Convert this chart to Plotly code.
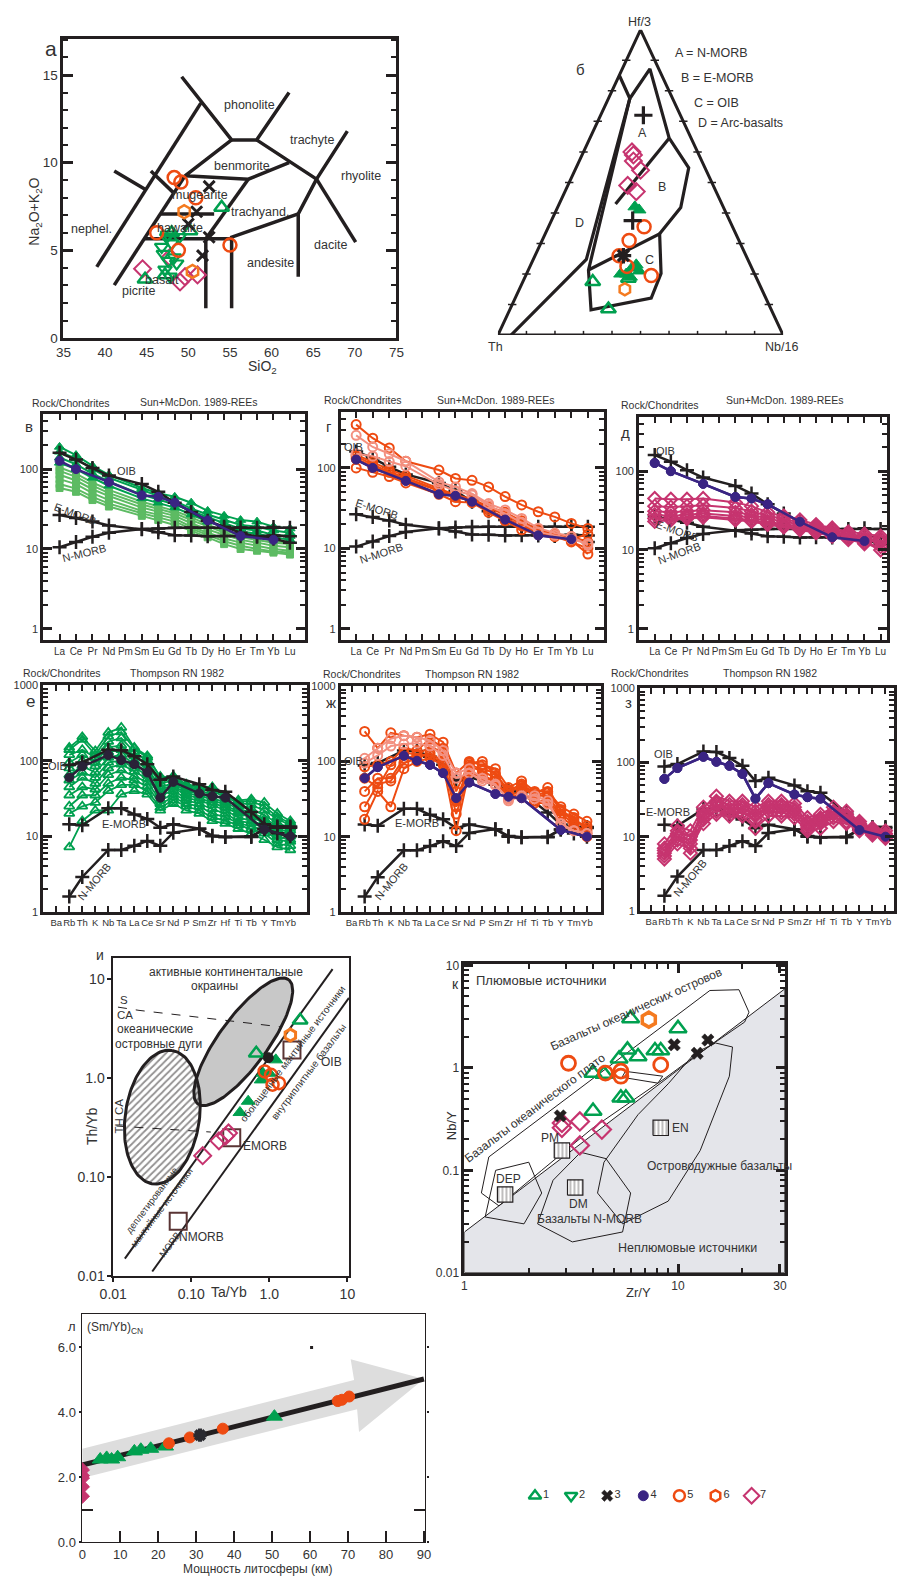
import numpy as np
import plotly.graph_objects as go

W, H = 904, 1587
FONT = "Liberation Sans Narrow, Arial Narrow, Liberation Sans, Arial, sans-serif"
INK = "#231f20"
TXT = "#333333"
GREEN = "#00a04f"
GREEN_L = "#5dbb63"
PURPLE = "#3a2483"
RED = "#ee4b12"
ORANGE = "#f47a1f"
SALMON = "#f39080"
MAGENTA = "#c6346f"
BOXC = "#5a3434"

# ======================= DATA =======================
# (а) TAS diagram: field boundaries (SiO2, Na2O+K2O)
tas_lines = [
    [(39.0, 4.06), (51.5, 13.4)],
    [(49.2, 14.9), (55.2, 11.3), (58.2, 11.3), (62.1, 14.0)],
    [(58.2, 11.3), (65.4, 9.06), (69.1, 11.8)],
    [(65.4, 9.06), (70.1, 5.47)],
    [(65.4, 9.06), (63.2, 7.08), (63.2, 3.5)],
    [(63.2, 7.08), (55.2, 5.75), (55.2, 1.7)],
    [(44.7, 5.66), (55.2, 5.66)],
    [(52.1, 5.66), (52.1, 1.7)],
    [(46.6, 7.08), (53.1, 7.08)],
    [(55.2, 11.3), (49.6, 9.25), (57.2, 9.06), (62.1, 10.0)],
    [(52.1, 5.66), (57.2, 9.06)],
    [(41.1, 3.02), (49.6, 9.25)],
    [(41.1, 9.53), (44.9, 8.45)],
    [(45.5, 9.53), (48.3, 8.25)],
]
tas_names = ["phonolite", "trachyte", "benmorite", "rhyolite", "mugearite", "trachyand.",
             "nephel.", "hawaiite", "dacite", "andesite", "basalt", "picrite"]
tas_name_x = [57.3, 64.9, 56.4, 70.7, 51.4, 58.6, 38.4, 49.0, 67.1, 59.9, 46.8, 44.0]
tas_name_y = [13.3, 11.3, 9.8, 9.25, 8.17, 7.2, 6.2, 6.26, 5.3, 4.3, 3.3, 2.68]
tas_s1_x = [54.0, 50.2, 44.8, 48.0, 47.2]
tas_s1_y = [7.45, 6.1, 3.35, 6.0, 3.6]
tas_s2_x = [47.4, 48.0, 47.0, 47.6, 48.6, 47.2, 47.8, 46.8, 48.9, 47.5, 48.3]
tas_s2_y = [5.75, 5.4, 4.8, 4.4, 4.25, 3.9, 3.5, 5.2, 5.75, 5.9, 4.6]
tas_s3_x = [52.5, 50.0, 51.0, 52.5, 51.7]
tas_s3_y = [8.65, 6.5, 7.2, 5.75, 4.7]
tas_s5_x = [48.3, 49.1, 50.9, 46.2, 48.8, 55.0]
tas_s5_y = [9.15, 8.9, 8.0, 6.0, 5.0, 5.3]
tas_s6_x = [49.5, 50.5]
tas_s6_y = [7.2, 3.8]
tas_s7_x = [44.5, 49.0, 49.6, 51.1, 47.8]
tas_s7_y = [3.95, 3.2, 3.5, 3.6, 4.6]

# (б) Hf/3 - Th - Nb/16 ternary, compositions as (Hf/3, Th, Nb/16) %
tern_lines = [
    [(85.1, 14.9, 0), (77.5, 15, 7.5), (87.2, 3.1, 9.7), (64.5, 7.7, 27.8), (54.8, 5.7, 39.5),
     (41.8, 15, 43.2), (33.2, 26.7, 40.1)],
    [(77.5, 15, 7.5), (24.8, 56.6, 18.6), (0, 95.4, 4.6)],
    [(77.5, 15, 7.5), (21.3, 57.6, 21.1), (8.3, 63.2, 28.5), (12.1, 40.2, 47.7), (20.2, 32.7, 47.1),
     (33.2, 26.7, 40.1), (21.3, 57.6, 21.1)],
    [(64.5, 7.7, 27.8), (42.9, 37.3, 19.8)],
]
tern_corners = [(0, 100, 0), (0, 0, 100), (100, 0, 0), (0, 100, 0)]
tern_plus = [(72, 13, 15), (37.5, 34, 28.5)]
tern_star = [(26, 43, 31)]
tern_s7 = [(60, 23, 17), (57, 24, 19), (54, 23, 23), (49, 30, 21), (47, 28, 25), (59, 23, 18)]
tern_s1_fill = [(42, 31, 27), (41, 30, 29), (22, 42, 36), (21, 40, 39), (20, 45, 35), (20, 47, 33),
                (19, 44, 37), (23, 40, 37)]
tern_s1_open = [(17.5, 58, 24.5), (8.5, 57, 34.5), (18.5, 45, 36.5)]
tern_s5 = [(35.5, 31, 33.5), (31, 38.5, 30.5), (26, 44.5, 29.5), (22.5, 43.5, 34), (19.5, 36.5, 44)]
tern_s6 = [(15, 48, 37)]

# (в, г, д) REE, chondrite normalised
REE = ["La", "Ce", "Pr", "Nd", "Pm", "Sm", "Eu", "Gd", "Tb", "Dy", "Ho", "Er", "Tm", "Yb", "Lu"]
ree_oib = [160, 132, 103, 83, None, 65, 52, 38, 29, 22.5, 19, 16, 14.2, 13.4, 12]
ree_emorb = [26.6, 24.5, 22.1, 19.7, None, 17.6, 16.2, 14.9, 14.7, 14.4, 14.5, 14.4, 14.4, 14.7, 14.4]
ree_nmorb = [10.5, 12.2, 14.2, 16.0, None, 17.8, 18.1, 18.5, 18.6, 18.5, 18.5, 18.6, 18.5, 18.9, 18.5]
ree_s4 = [127, 100, None, 69, None, 47, 45, 38, None, 22.8, None, 14.5, None, 13, None]
ree_green_dark = [
    [190, 150, 110, 85, None, 58, 50, 45, 38, 30, 26, 23, 22, 19, 18],
    [165, 135, 100, 78, None, 55, 46, 40, 32, 27, 23, 20, 19, 17, 16],
    [140, 115, 88, 70, None, 48, 42, 36, 30, 25, 21, 18, 17, 15, 14.5],
    [120, 100, 78, 62, None, 43, 38, 33, 27, 22, 19, 16.5, 15.5, 14, 13],
]
ree_green_light = [
    [105, 88, 68, 55, None, 39, 34, 30, 25, 20, 17, 15, 14, 12.5, 12],
    [95, 80, 62, 50, None, 36, 32, 28, 23, 19, 16, 14, 13, 12, 11.5],
    [85, 72, 56, 46, None, 33, 29, 26, 21, 17.5, 15, 13, 12, 11, 10.5],
    [75, 65, 50, 41, None, 30, 27, 24, 19, 16, 13.5, 12, 11, 10, 9.5],
    [65, 57, 45, 37, None, 28, 25, 22, 18, 15, 12.5, 11, 10, 9.3, 9],
    [58, 52, 41, 34, None, 26, 23, 20, 17, 14, 11.5, 10, 9.5, 9, 8.5],
]
ree_red = [
    [345, 234, 177, 121, None, 94, 74, 70, 58, 44, 34.6, 28.5, 24.6, 20.4, 17.7],
    [146, 118, 95, 80, None, 55, 46, 41, 33, 28, 22, 17, 15, 14, 12],
    [140, 110, 90, 75, None, 53, 45, 40, 32, 26, 20, 16, 15, 13, 15],
    [130, 105, 88, 72, None, 52, 43, 40, 30, 24, 19, 16, 14.5, 12.5, 8.5],
    [100, 88, 78, 65, None, 47, 38, 37, 28, 22, 17, 15, 14, 12, 10],
]
ree_salmon = [
    [254, 182, 150, 121, None, 67, 58, 48, 36, 30, 23.5, 17.8, 15.5, 14, 11],
    [150, 140, 120, 105, None, 62, 52, 46, 34, 27, 21, 16, 14.5, 13, 11.5],
]
ree_magenta = [
    [45, 44, 44, 45, None, 40, 36, 30, 27, 24, 21, 19, 17, 16, 15],
    [36, 35, 36, 37, None, 34, 31, 27, 25, 22, 20, 18, 16, 15, 14],
    [31, 30, 31, 32, None, 30, 28, 25, 23, 21, 19, 17, 15.5, 14, 13],
    [28, 27, 28, 29, None, 27, 26, 23, 21, 20, 18, 16, 15, 13.5, 12.5],
    [25, 25, 26, 27, None, 25, 24, 22, 20, 19, 17, 15, 14, 12.5, 10],
    [23, 24, 25, 26, None, 24, 23, 21, 19.5, 18, 16.5, 15, 13.5, 12, 11],
]

# (е, ж, з) Thompson 1982 spidergrams
TH = ["Ba", "Rb", "Th", "K", "Nb", "Ta", "La", "Ce", "Sr", "Nd", "P", "Sm", "Zr", "Hf", "Ti",
      "Tb", "Y", "Tm", "Yb"]
th_oib = [None, 88, 95, None, 140, 138, 115, 90, 56, 62, None, 49, 41, 39, None, 21, 14.5, 13, 13]
th_emorb = [None, 14.5, 14, None, 23.5, 23.5, 19.5, 17, 13, 14.5, None, 12.6, 10, 9.8, None, 10, 12.5, 13.5, 13.5]
th_nmorb = [None, 1.6, 2.9, None, 6.6, 6.6, 7.5, 8.7, 7.5, 11.2, None, 12.6, 10.2, 9.8, None, 9.8, 12.5, 11, 10]
th_s4 = [None, 60, 84, None, 119, 102, 90, 70, 32.5, 52.5, None, 37, 34, 32.5, None, None, 12.3, None, 10]
th_green = [
    [None, 150, 207, 135, 236, 275, 150, 116, 60, 63, 49, 45, 45, 36, 30, 31, 28, 20, 16],
    [None, 140, 190, 120, 210, 240, 145, 110, 62, 60, 47, 44, 42, 35, 29, 29, 25, 18, 15],
    [None, 120, 140, 110, 180, 200, 130, 100, 55, 58, 45, 42, 40, 33, 28, 26, 22, 17, 14],
    [None, 95, 120, 95, 150, 160, 115, 90, 50, 55, 42, 40, 36, 30, 25, 23, 19, 15, 13],
    [None, 80, 100, 85, 130, 140, 100, 80, 45, 50, 40, 37, 32, 28, 23, 21, 17, 14, 12],
    [None, 65, 85, 70, 110, 120, 90, 72, 42, 47, 37, 35, 30, 26, 21, 19, 16, 13, 11],
    [None, 55, 70, 60, 95, 100, 80, 65, 38, 44, 35, 32, 28, 24, 20, 18, 15, 12, 10.5],
    [None, 45, 60, 50, 80, 90, 72, 58, 35, 40, 32, 30, 26, 22, 18, 16, 14, 11, 10],
    [None, 35, 45, 42, 65, 75, 62, 52, 30, 36, 30, 27, 23, 20, 16, 15, 13, 10, 9],
    [None, 25, 35, 35, 50, 60, 55, 46, 27, 33, 27, 25, 20, 18, 15, 13.5, 12, 9, 8.5],
    [None, 20, 25, 28, 40, 48, 48, 40, 24, 30, 25, 22, 18, 16, 14, 12.5, 11, 8, 7.5],
    [None, 7.2, 16, 22, 22, 36, 40, 36, 22, 27, 22, 20, 16, 14.7, 12.6, 10.8, 9, 7.2, 6.6],
]
th_red = [
    [None, 250, 150, 240, 220, 210, 230, 180, 70, 100, 90, 80, 45, 55, 40, 40, 25, 20, 16],
    [None, 17, 40, 25, 80, 100, 110, 90, 12, 75, 60, 55, 35, 40, 30, 30, 20, 18, 12],
    [None, 40, 60, 60, 110, 120, 160, 130, 30, 90, 80, 70, 40, 50, 38, 45, 22, 16, 14],
    [None, 25, 50, 55, 95, 110, 130, 100, 25, 85, 75, 60, 40, 45, 35, 35, 20, 15, 11],
    [None, 85, 90, 100, 150, 140, 200, 150, 40, 95, 100, 65, 42, 48, 36, 38, 23, 17, 13],
    [None, 60, 45, 90, 130, 125, 120, 95, 20, 70, 65, 55, 32, 38, 28, 28, 18, 14, 10],
]
th_salmon = [
    [None, 110, 150, 200, 220, 210, 190, 140, 70, 80, 60, 50, 30, 35, 35, 30, 14, 12, 11],
    [None, 95, 120, 160, 170, 175, 160, 120, 60, 70, 55, 48, 32, 33, 32, 27, 15, 12, 11],
]
th_magenta = [
    [None, 8, 14, 12, 25, 35, 30, 30, 25, 30, 30, 28, 18, 20, 25, 22, 16, 13, 12],
    [None, 7, 12, 10, 22, 30, 27, 27, 22, 27, 27, 25, 16, 18, 22, 20, 15, 12, 11],
    [None, 6, 10, 9, 20, 26, 24, 24, 20, 25, 24, 22, 15, 16, 20, 18, 14, 12, 10.5],
    [None, 5.5, 9, 8, 17, 22, 21, 21, 17, 22, 21, 20, 13, 15, 18, 16, 13, 11, 10],
    [None, 5, 8, 7, 15, 20, 19, 19, 13, 19, 19, 18, 12, 13, 16, 15, 12, 10.5, 9.5],
    [None, 6.5, 11, 6, 19, 28, 22, 25, 19, 24, 26, 23, 14, 17, 21, 19, 14, 11.5, 10],
]

# (и) Th/Yb vs Ta/Yb
i_upper = [(0.0141, 0.0151), (6.46, 12.6)]
i_lower = [(0.0316, 0.0112), (10.47, 6.46)]
i_dash_s = [(0.0115, 5.21), (0.0214, 4.83), (0.274, 3.83), (1.40, 3.29)]
i_dash_th = [(0.011, 0.329), (0.178, 0.286)]
i_s1_open_x, i_s1_open_y = [2.48, 0.68], [3.84, 1.78]
i_s1_fill_x = [1.21, 0.785, 0.536, 0.42, 0.83, 1.0]
i_s1_fill_y = [1.53, 0.96, 0.585, 0.45, 1.12, 1.12]
i_s4_x, i_s4_y = [0.97], [1.61]
i_s5_x, i_s5_y = [0.87, 1.05, 1.1, 1.33], [1.17, 1.08, 0.86, 0.89]
i_s6_x, i_s6_y = [1.86], [2.72]
i_s7_x, i_s7_y = [0.14, 0.226, 0.275, 0.30], [0.165, 0.233, 0.26, 0.28]
i_ref_names = ["OIB", "EMORB", "NMORB"]
i_ref_x = [1.95, 0.33, 0.068]
i_ref_y = [1.92, 0.25, 0.036]

# (к) Nb/Y vs Zr/Y
k_nonplume = [(1.0, 0.025), (31.6, 5.9), (31.6, 0.01), (1.0, 0.01), (1.0, 0.025)]
k_oib_field = [(1.3, 0.135), (14.1, 5.7), (19.3, 5.8), (21.5, 3.5), (20.5, 2.8), (12, 1.3), (8.6, 0.78),
               (4, 0.26), (2.3, 0.1), (1.45, 0.045), (1.2, 0.06), (1.3, 0.135)]
k_small = [(5.67, 0.925), (8.48, 0.83), (8.05, 0.71), (5.47, 0.81), (5.67, 0.925)]
k_arc = [(15, 1.75), (18, 1.6), (17.4, 0.83), (12.7, 0.156), (9, 0.05), (5.5, 0.03), (4.2, 0.06),
         (4.5, 0.12), (6.5, 0.35), (9, 0.7), (12, 1.4), (15, 1.75)]
k_nmorb = [(2.2, 0.03), (3.2, 0.02), (5.5, 0.025), (6, 0.06), (4.6, 0.13), (3.5, 0.15), (2.6, 0.08), (2.2, 0.03)]
k_dep = [(1.25, 0.035), (1.9, 0.03), (2.3, 0.06), (2.0, 0.12), (1.4, 0.1), (1.25, 0.035)]
k_s1_x = [6.0, 10.0, 5.8, 6.5, 7.8, 8.3, 5.3, 4.0, 4.5, 5.4, 5.7, 4.0]
k_s1_y = [3.03, 2.43, 1.5, 1.29, 1.48, 1.48, 1.23, 0.89, 0.87, 0.51, 0.51, 0.38]
k_s3_x, k_s3_y = [9.6, 12.3, 13.8, 2.81], [1.68, 1.39, 1.87, 0.34]
k_s5_x, k_s5_y = [3.07, 4.57, 5.4, 5.4, 8.3], [1.11, 0.89, 0.93, 0.83, 1.07]
k_s6_x, k_s6_y = [7.3], [2.96]
k_s7_x, k_s7_y = [2.86, 2.86, 3.47, 4.4, 3.47], [0.26, 0.29, 0.30, 0.25, 0.175]
k_ref_names = ["PM", "DM", "DEP", "EN"]
k_ref_x = [2.86, 3.3, 1.55, 8.3]
k_ref_y = [0.156, 0.068, 0.058, 0.26]

# (л) (Sm/Yb)CN vs lithosphere thickness
l_arrow = [(0, 2.88), (71.6, 5.0), (70.7, 5.64), (90, 5.03), (72.9, 3.40), (72.4, 4.1), (0, 1.98), (0, 2.88)]
l_trend = [(0, 2.38), (90, 5.03)]
l_s7_x, l_s7_y = [0, 0, 0, 0, 0], [2.23, 2.05, 1.98, 1.71, 1.42]
l_s1_x = [4.7, 6.4, 7.7, 9.3, 13.7, 15.4, 18.0, 21.9, 50.6]
l_s1_y = [2.55, 2.6, 2.55, 2.62, 2.8, 2.85, 2.88, 2.95, 3.87]
l_s5_x = [22.8, 28.3, 37.0, 67.3, 68.4, 70.3]
l_s5_y = [3.05, 3.23, 3.5, 4.35, 4.39, 4.49]
l_s3_x, l_s3_y = [31.0], [3.3]
l_dot_x, l_dot_y = [60.4], [6.0]

legend_labels = ["1", "2", "3", "4", "5", "6", "7"]

# ======================= HELPERS =======================
fig = go.Figure()
LAY = dict(width=W, height=H, margin=dict(l=0, r=0, t=0, b=0), paper_bgcolor="white",
           plot_bgcolor="white", showlegend=False, font=dict(family=FONT, size=11, color=TXT))
ANN = []


def ref(n):
    return ("x", "y") if n == 1 else (f"x{n}", f"y{n}")


def keys(n):
    return ("xaxis", "yaxis") if n == 1 else (f"xaxis{n}", f"yaxis{n}")


def dx(a, b):
    return [a / W, b / W]


def dy(top, bottom):
    return [1 - bottom / H, 1 - top / H]


def tf(size):
    return dict(size=size, color=TXT, family=FONT)


def set_axes(n, xd, yd, xa, ya):
    kx, ky = keys(n)
    rx, ry = ref(n)
    base = dict(showgrid=False, zeroline=False, showline=True, linecolor=INK, linewidth=3,
                mirror=True, ticks="", layer="above traces", tickfont=tf(11), tickangle=0)
    a = dict(base); a.update(xa); a.update(domain=xd, anchor=ry)
    b = dict(base); b.update(ya); b.update(domain=yd, anchor=rx)
    LAY[kx] = a
    LAY[ky] = b


def sc(n, x, y, **kw):
    rx, ry = ref(n)
    fig.add_trace(go.Scatter(x=x, y=y, xaxis=rx, yaxis=ry, hoverinfo="skip", **kw))


def mk(symbol, size, color, lw=2):
    return dict(symbol=symbol, size=size, color=color, line=dict(width=lw, color=color))


def text(s, x, y, size=11, angle=0, xa="center", ya="middle", color=TXT, axref=None):
    if axref is None:
        xr, yr, X, Y = "paper", "paper", x / W, 1 - y / H
    else:
        xr, yr = axref
        X, Y = x, y
    ANN.append(dict(text=s, x=X, y=Y, xref=xr, yref=yr, showarrow=False, textangle=angle,
                    xanchor=xa, yanchor=ya, font=dict(size=size, color=color, family=FONT)))


def flat(lines):
    xs, ys = [], []
    for ln in lines:
        for p in ln:
            xs.append(p[0]); ys.append(p[1])
        xs.append(None); ys.append(None)
    return xs, ys


def tern_xy(pts):
    xs, ys = [], []
    for p in pts:
        if p is None:
            xs.append(None); ys.append(None); continue
        h, t, n = p
        s = h + t + n
        h, n = h / s, n / s
        xs.append(n + h / 2)
        ys.append(h)
    return xs, ys


def log_minor(lo, hi):
    return [m * 10 ** e for e in range(lo, hi) for m in range(2, 10)]


# ======================= (а) TAS =======================
set_axes(1, dx(50.7, 392), dy(33, 335),
         dict(range=[35, 75], tickvals=list(range(35, 80, 5)), tickfont=tf(13.5)),
         dict(range=[0, 17.07], tickvals=[0, 5, 10, 15], ticks="inside", ticklen=10, tickwidth=3,
              tickcolor=INK, mirror="allticks", tickfont=tf(13.5),
              minor=dict(ticks="inside", ticklen=5, tickwidth=2, tickcolor=INK, dtick=1)))
lx, ly = flat(tas_lines)
sc(1, lx, ly, mode="lines", line=dict(color=INK, width=3.5))
sc(1, tas_s7_x, tas_s7_y, mode="markers", marker=mk("diamond-open", 13, MAGENTA, 2))
sc(1, tas_s2_x, tas_s2_y, mode="markers", marker=mk("triangle-down-open", 12, GREEN, 2.2))
sc(1, tas_s1_x, tas_s1_y, mode="markers", marker=mk("triangle-up-open", 13, GREEN, 2.5))
sc(1, tas_s3_x, tas_s3_y, mode="markers", marker=mk("x-thin", 11, INK, 3))
sc(1, tas_s5_x, tas_s5_y, mode="markers", marker=mk("circle-open", 13, RED, 2.5))
sc(1, tas_s6_x, tas_s6_y, mode="markers", marker=mk("hexagon-open", 13, ORANGE, 2.5))
for s, x, y in zip(tas_names, tas_name_x, tas_name_y):
    text(s, x, y, size=12.5, axref=("x", "y"))
text("а", 38, 43, size=21)
text("Na<sub>2</sub>O+K<sub>2</sub>O", 22, 207, size=14, angle=-90)
text("SiO<sub>2</sub>", 255, 364, size=14)

# ======================= (б) ternary =======================
set_axes(2, dx(496, 788.3), dy(24, 332),
         dict(range=[0, 1], visible=False), dict(range=[0, 1], visible=False))
cx, cy = tern_xy(tern_corners)
sc(2, cx, cy, mode="lines", line=dict(color=INK, width=3))
base_ticks = [(0, 100 - 10 * k, 10 * k) for k in range(1, 10)]
side_ticks = [(10 * k, 100 - 10 * k, 0) for k in range(1, 10)] + [(10 * k, 0, 100 - 10 * k) for k in range(1, 10)]
bx, by = tern_xy(base_ticks)
sc(2, bx, by, mode="markers", marker=dict(symbol="line-ns-open", size=6, color=INK, line=dict(width=1.5, color=INK)))
sx, sy = tern_xy(side_ticks)
sc(2, sx, sy, mode="markers", marker=dict(symbol="line-ew-open", size=6, color=INK, line=dict(width=1.5, color=INK)))
tl = []
for ln in tern_lines:
    tl += ln + [None]
tx, ty = tern_xy(tl)
sc(2, tx, ty, mode="lines", line=dict(color=INK, width=3.2))
for pts, m in [(tern_s7, mk("diamond-open", 13, MAGENTA, 2)),
               (tern_s1_fill, mk("triangle-up", 12, GREEN, 1)),
               (tern_s1_open, mk("triangle-up-open", 13, GREEN, 2.5)),
               (tern_s5, mk("circle-open", 13, RED, 2.5)),
               (tern_s6, mk("hexagon-open", 12, ORANGE, 2.5)),
               (tern_plus, mk("cross-thin", 13, INK, 3.2)),
               (tern_star, mk("asterisk", 13, INK, 3.2))]:
    px_, py_ = tern_xy(pts)
    sc(2, px_, py_, mode="markers", marker=m)
text("Hf/3", 641, 16, size=12.5)
text("Th", 494, 344, size=12.5)
text("Nb/16", 787, 344, size=12.5)
text("б", 581, 64, size=15)
text("A = N-MORB", 715, 47, size=12.5)
text("B = E-MORB", 721, 73, size=12.5)
text("C = OIB", 720, 98, size=12.5)
text("D = Arc-basalts", 745, 118, size=12.5)
text("A", 644, 128, size=12.5)
text("B", 664, 183, size=12.5)
text("C", 651, 256, size=12.5)
text("D", 580, 219, size=12.5)


# ======================= spidergram helpers =======================
def spider_axes(n, x0, x1, y0, y1, xr, yr, elems, yticks, xfs):
    set_axes(n, dx(x0, x1), dy(y0, y1),
             dict(range=xr, tickvals=list(range(len(elems))), ticktext=elems, ticks="inside",
                  ticklen=6, tickwidth=2, tickcolor=INK, mirror="allticks", tickfont=tf(xfs),
                  tickangle=0),
             dict(type="log", range=yr, tickvals=yticks, ticktext=[str(v) for v in yticks],
                  ticks="inside", ticklen=9, tickwidth=2.5, tickcolor=INK, mirror="allticks",
                  tickfont=tf(11),
                  minor=dict(ticks="inside", ticklen=5, tickwidth=1.5, tickcolor=INK,
                             tickvals=log_minor(0, 3))))


def series(n, vals, color, symbol, size, lw=2, mlw=2):
    sc(n, list(range(len(vals))), vals, mode="lines+markers", connectgaps=True,
       line=dict(color=color, width=lw), marker=mk(symbol, size, color, mlw))


def refs_ree(n, s4color=PURPLE):
    series(n, ree_emorb, INK, "cross-thin", 10, 2.5, 2.5)
    series(n, ree_nmorb, INK, "cross-thin", 10, 2.5, 2.5)
    series(n, ree_oib, INK, "cross-thin", 10, 2.5, 2.5)
    series(n, ree_s4, s4color, "circle", 9, 2.5, 1)


def refs_th(n, s4color=PURPLE):
    series(n, th_emorb, INK, "cross-thin", 10, 2.5, 2.5)
    series(n, th_nmorb, INK, "cross-thin", 10, 2.5, 2.5)
    series(n, th_oib, INK, "cross-thin", 10, 2.5, 2.5)
    series(n, th_s4, s4color, "circle", 9, 2.5, 1)


# ----- в -----
spider_axes(3, 30, 298, 411.7, 640, [-0.99, 14.9], [-0.145, 2.69], REE, [1, 10, 100], 10)
for v in ree_green_light:
    series(3, v, GREEN_L, "square", 7, 2, 1)
for v in ree_green_dark:
    series(3, v, GREEN, "triangle-up", 9, 2, 1)
refs_ree(3)
# ----- г -----
spider_axes(4, 335, 605, 410, 640, [-0.925, 14.99], [-0.144, 2.69], REE, [1, 10, 100], 10)
refs_ree(4)
for v in ree_red:
    series(4, v, RED, "circle-open", 9, 2, 2)
for v in ree_salmon:
    series(4, v, SALMON, "circle-open", 9, 2, 2)
series(4, ree_s4, PURPLE, "circle", 9, 2.5, 1)
# ----- д -----
spider_axes(5, 640.7, 895, 415, 640, [-0.967, 14.41], [-0.147, 2.683], REE, [1, 10, 100], 10)
refs_ree(5)
for v in ree_magenta:
    series(5, v, MAGENTA, "diamond-open", 10, 2, 2)
series(5, ree_s4, PURPLE, "circle", 9, 2.5, 1)

for (n, rc, sm, let, oib, em, nm, ema, nma) in [
        (3, (58, 401), (190, 400), (15, 424), (115, 469), (63, 513), (72, 552), 20, -14),
        (4, (358, 398), (494, 398), (323, 424), (348, 445), (372, 507), (377, 552), 18, -18),
        (5, (662, 403), (790, 398), (627, 430), (668, 449), (680, 530), (682, 552), 19, -20)]:
    text("Rock/Chondrites", rc[0], rc[1], size=10.5)
    text("Sun+McDon. 1989-REEs", sm[0], sm[1], size=10.5)
    text({3: "в", 4: "г", 5: "д"}[n], let[0], let[1], size=15)
    text("OIB", oib[0], oib[1], size=11)
    text("E-MORB", em[0], em[1], size=11, angle=ema)
    text("N-MORB", nm[0], nm[1], size=11, angle=nma)

# ----- е -----
spider_axes(6, 30, 300, 685, 914, [-1.0, 19.26], [0, 3.003], TH, [1, 10, 100, 1000], 9.5)
for v in th_green:
    series(6, v, GREEN, "triangle-up-open", 9, 1.8, 1.8)
refs_th(6, "#2a2238")
# ----- ж -----
spider_axes(7, 335, 601.7, 686, 914, [-0.82, 19.08], [0, 3.003], TH, [1, 10, 100, 1000], 9.5)
refs_th(7)
for v in th_red:
    series(7, v, RED, "circle-open", 9, 2, 2)
for v in th_salmon:
    series(7, v, SALMON, "circle-open", 9, 2, 2)
series(7, th_s4, PURPLE, "circle", 9, 2.5, 1)
# ----- з -----
spider_axes(8, 641.7, 902, 688, 913, [-0.87, 18.66], [0, 3.003], TH, [1, 10, 100, 1000], 9.5)
refs_th(8)
for v in th_magenta:
    series(8, v, MAGENTA, "diamond-open", 10, 2, 2)
series(8, th_s4, PURPLE, "circle", 9, 2.5, 1)

for (n, rc, tp, let, oib, em, nm) in [
        (6, (49, 673), (167, 673), (17, 702), (45, 767), (113, 825), (83, 883)),
        (7, (357, 674), (469, 674), (325, 703), (348, 762), (413, 824), (387, 883)),
        (8, (652, 673), (775, 673), (630, 703), (666, 755), (670, 813), (693, 880))]:
    text("Rock/Chondrites", rc[0], rc[1], size=10.5)
    text("Thompson RN 1982", tp[0], tp[1], size=10.5)
    text({6: "е", 7: "ж", 8: "з"}[n], let[0], let[1], size=17 if n == 6 else 15)
    text("OIB", oib[0], oib[1], size=11)
    text("E-MORB", em[0], em[1], size=11)
    text("N-MORB", nm[0], nm[1], size=11, angle=-50)

# ======================= (и) Th/Yb vs Ta/Yb =======================
set_axes(9, dx(101.7, 343.3), dy(960, 1281.7),
         dict(type="log", range=[-2, 1.02], tickvals=[0.01, 0.1, 1, 10],
              ticktext=["0.01", "0.10", "1.0", "10"], ticks="outside", ticklen=4, tickwidth=1.5,
              tickcolor=INK, linewidth=1.5, tickfont=tf(14)),
         dict(type="log", range=[-2, 1.217], tickvals=[0.01, 0.1, 1, 10],
              ticktext=["0.01", "0.10", "1.0", "10"], ticks="outside", ticklen=4, tickwidth=1.5,
              tickcolor=INK, linewidth=1.5, tickfont=tf(14)))


def ellipse(cx_, cy_, a, b, ang, pdx, pdy, n=140):
    t = np.linspace(0, 2 * np.pi, n)
    r = np.radians(ang)
    ex = a * np.cos(t) * np.cos(r) - b * np.sin(t) * np.sin(r)
    ey = a * np.cos(t) * np.sin(r) + b * np.sin(t) * np.cos(r)
    return list(10 ** (cx_ + ex / pdx)), list(10 ** (cy_ + ey / pdy))


gx, gy = ellipse(-0.334, 0.367, 78, 25, 53.4, 80, 100)
sc(9, gx, gy, mode="lines", fill="toself", fillcolor="#c8c8c8", line=dict(color=INK, width=3))
hx, hy = ellipse(-1.371, -0.393, 68, 38, 81.6, 80, 100)
sc(9, hx, hy, mode="lines", fill="toself", fillcolor="rgba(0,0,0,0)",
   fillpattern=dict(shape="/", fgcolor=INK, bgcolor="rgba(0,0,0,0)", size=5, solidity=0.35),
   line=dict(color=INK, width=3))
for ln in [i_dash_s, i_dash_th]:
    sc(9, [p[0] for p in ln], [p[1] for p in ln], mode="lines", line=dict(color=INK, width=1, dash="dash"))
for ln in [i_upper, i_lower]:
    sc(9, [p[0] for p in ln], [p[1] for p in ln], mode="lines", line=dict(color=INK, width=2))
sc(9, i_ref_x, i_ref_y, mode="markers", marker=mk("square-open", 17, BOXC, 2))
sc(9, i_s7_x, i_s7_y, mode="markers", marker=mk("diamond-open", 13, MAGENTA, 2))
sc(9, i_s1_fill_x, i_s1_fill_y, mode="markers", marker=mk("triangle-up", 12, GREEN, 1))
sc(9, i_s1_open_x, i_s1_open_y, mode="markers", marker=mk("triangle-up-open", 13, GREEN, 2.5))
sc(9, i_s5_x, i_s5_y, mode="markers", marker=mk("circle-open", 12, RED, 2.5))
sc(9, i_s6_x, i_s6_y, mode="markers", marker=mk("hexagon-open", 12, ORANGE, 3))
sc(9, i_s4_x, i_s4_y, mode="markers", marker=mk("circle", 10, INK, 1))
text("и", 88, 957, size=14)
text("Th/Yb", 80, 1130, size=14, angle=-90)
text("Ta/Yb", 220, 1297, size=14)
text("активные континентальные", 217, 975, size=12)
text("окраины", 206, 989, size=12)
text("океанические", 145, 1032, size=12)
text("островные дуги", 148, 1047, size=12)
text("S", 113, 1003, size=11.5)
text("CA", 114, 1018, size=11.5)
text("TH CA", 108, 1120, size=11.5, angle=-90)
text("OIB", 325, 1065, size=12)
text("EMORB", 257, 1150, size=12)
text("NMORB", 192, 1242, size=12)
text("обогащенные мантийные источники", 286, 1057, size=10, angle=-53)
text("внутриплитные базальты", 302, 1075, size=10, angle=-53)
text("деплетированные<br>мантийные источники", 146, 1208, size=9.5, angle=-53)
text("MORB", 160, 1250, size=9.5, angle=-53)

# ======================= (к) Nb/Y vs Zr/Y =======================
set_axes(10, dx(461.7, 790), dy(967, 1278),
         dict(type="log", range=[0, 1.5], tickvals=[1, 10, 30], ticktext=["1", "10", "30"],
              ticks="inside", ticklen=9, tickwidth=2.5, tickcolor=INK, mirror="allticks",
              tickfont=tf(12),
              minor=dict(ticks="inside", ticklen=5, tickwidth=1.5, tickcolor=INK,
                         tickvals=[2, 3, 4, 5, 6, 7, 8, 9, 20])),
         dict(type="log", range=[-2, 1.01], tickvals=[0.01, 0.1, 1, 10],
              ticktext=["0.01", "0.1", "1", "10"], ticks="inside", ticklen=9, tickwidth=2.5,
              tickcolor=INK, mirror="allticks", tickfont=tf(12),
              minor=dict(ticks="inside", ticklen=5, tickwidth=1.5, tickcolor=INK,
                         tickvals=log_minor(-2, 1))))
sc(10, [p[0] for p in k_nonplume], [p[1] for p in k_nonplume], mode="lines", fill="toself",
   fillcolor="#e4e5ea", line=dict(color=INK, width=1))
fx, fy = flat([k_oib_field, k_small, k_arc, k_nmorb, k_dep])
sc(10, fx, fy, mode="lines", line=dict(color=INK, width=1))
hbx, hby = [], []
for cxv, cyv in zip(k_ref_x, k_ref_y):
    lcx, lcy = np.log10(cxv), np.log10(cyv)
    for ddx, ddy in [(-1, -1), (1, -1), (1, 1), (-1, 1), (-1, -1)]:
        hbx.append(10 ** (lcx + ddx * 0.036))
        hby.append(10 ** (lcy + ddy * 0.075))
    hbx.append(None); hby.append(None)
sc(10, hbx, hby, mode="lines", fill="toself", fillcolor="white",
   fillpattern=dict(shape="|", fgcolor=INK, bgcolor="white", size=4, solidity=0.3),
   line=dict(color=INK, width=1.2))
sc(10, k_s7_x, k_s7_y, mode="markers", marker=mk("diamond-open", 14, MAGENTA, 2.2))
sc(10, k_s1_x, k_s1_y, mode="markers", marker=mk("triangle-up-open", 15, GREEN, 2.5))
sc(10, k_s5_x, k_s5_y, mode="markers", marker=mk("circle-open", 14, RED, 2.8))
sc(10, k_s6_x, k_s6_y, mode="markers", marker=mk("hexagon-open", 15, ORANGE, 3.5))
sc(10, k_s3_x, k_s3_y, mode="markers", marker=mk("x", 11, INK, 0.5))
text("к", 452, 987, size=14)
text("Nb/Y", 448, 1130, size=13, angle=-90)
text("Zr/Y", 640, 1298, size=13)
text("Плюмовые источники", 540, 983, size=13)
text("Базальты океанических островов", 638, 1012, size=12, angle=-24)
text("Базальты океанического плато", 534, 1112, size=12, angle=-37)
text("Островодужные базальты", 723, 1170, size=12)
text("Базальты N-MORB", 590, 1224, size=12)
text("Неплюмовые источники", 690, 1253, size=12.5)
text("PM", 549, 1142, size=12)
text("EN", 683, 1132, size=12)
text("DEP", 507, 1183, size=12)
text("DM", 579, 1209, size=12)

# ======================= (л) Sm/Yb vs thickness =======================
set_axes(11, dx(69.3, 421.7), dy(1320, 1550),
         dict(range=[-0.2, 90.4], tickvals=list(range(0, 100, 10)), ticks="inside", ticklen=11,
              tickwidth=1.5, tickcolor=INK, linewidth=1.2, tickfont=tf(13)),
         dict(range=[0, 7.02], tickvals=[0, 2, 4, 6], ticktext=["0.0", "2.0", "4.0", "6.0"],
              ticks="outside", ticklen=2, tickwidth=2, tickcolor=INK, mirror="allticks",
              linewidth=1.2, tickfont=tf(13),
              minor=dict(ticks="inside", ticklen=11, tickwidth=1.5, tickcolor=INK, tickvals=[1])))
sc(11, [p[0] for p in l_arrow], [p[1] for p in l_arrow], mode="lines", fill="toself",
   fillcolor="#dddddd", line=dict(width=0, color="#dddddd"))
sc(11, [p[0] for p in l_trend], [p[1] for p in l_trend], mode="lines", line=dict(color=INK, width=5))
sc(11, l_s1_x, l_s1_y, mode="markers", marker=mk("triangle-up", 14, GREEN, 1))
sc(11, l_s5_x, l_s5_y, mode="markers", marker=mk("circle", 11, RED, 1))
sc(11, l_s3_x, l_s3_y, mode="markers", marker=mk("asterisk", 11, "#2a2a30", 4))
sc(11, l_s7_x, l_s7_y, mode="markers", marker=mk("diamond", 11, MAGENTA, 1))
sc(11, l_dot_x, l_dot_y, mode="markers", marker=mk("square", 3, INK, 0))
text("л", 59, 1332, size=13)
text("(Sm/Yb)<sub>CN</sub>", 104, 1334, size=12)
text("Мощность литосферы (км)", 250, 1577, size=12)

# ======================= legend =======================
set_axes(12, dx(515.5, 793), dy(1490, 1516),
         dict(range=[-0.5, 7], visible=False), dict(range=[0, 1], visible=False))
leg_markers = [mk("triangle-up-open", 11, GREEN, 2.5), mk("triangle-down-open", 11, GREEN, 2.5),
               mk("x", 10, INK, 0.5), mk("circle", 10, PURPLE, 1),
               mk("circle-open", 11, RED, 2.5), mk("hexagon-open", 11, RED, 2.5),
               mk("diamond-open", 12, MAGENTA, 2)]
for i, (lab, m) in enumerate(zip(legend_labels, leg_markers)):
    sc(12, [i], [0.5], mode="markers+text", marker=m, text=[lab], textposition="middle right",
       textfont=dict(size=11, color=TXT, family=FONT))

LAY["annotations"] = ANN
fig.update_layout(**LAY)
fig.write_html("out.html")
